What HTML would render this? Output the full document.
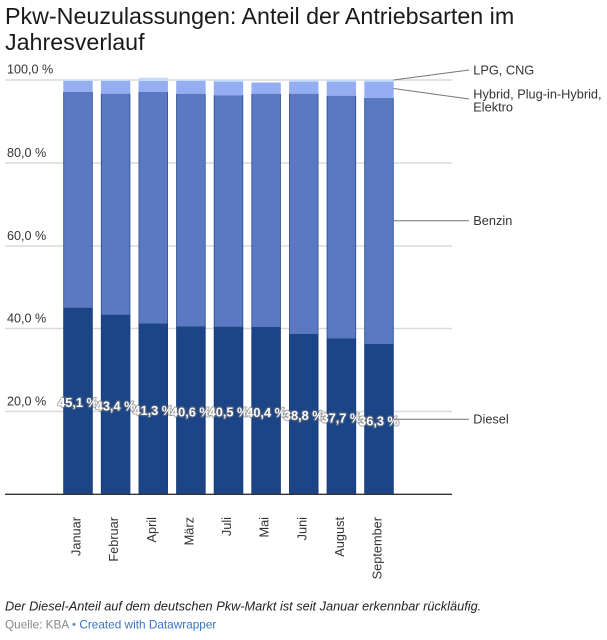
<!DOCTYPE html>
<html>
<head>
<meta charset="utf-8">
<style>
html,body{margin:0;padding:0;background:#fff;}
body{width:607px;height:640px;overflow:hidden;}
svg{display:block;}
text{font-family:"Liberation Sans",Arial,sans-serif;}
</style>
</head>
<body>
<svg width="607" height="640" viewBox="0 0 607 640" xmlns="http://www.w3.org/2000/svg">
  <!-- Title -->
  <text x="5" y="24" font-size="23.25" fill="#1a1a1a">Pkw-Neuzulassungen: Anteil der Antriebsarten im</text>
  <text x="5" y="50" font-size="23.25" fill="#1a1a1a">Jahresverlauf</text>

  <!-- Gridlines -->
  <g stroke="#dadada" stroke-width="1.5">
    <line x1="5" y1="80" x2="452" y2="80"/>
    <line x1="5" y1="163" x2="452" y2="163"/>
    <line x1="5" y1="246" x2="452" y2="246"/>
    <line x1="5" y1="328.5" x2="452" y2="328.5"/>
    <line x1="5" y1="411.5" x2="452" y2="411.5"/>
  </g>

  <!-- Y labels -->
  <g font-size="12.6" fill="#333">
    <text x="7" y="73.5">100,0 %</text>
    <text x="7" y="157">80,0 %</text>
    <text x="7" y="240">60,0 %</text>
    <text x="7" y="322.5">40,0 %</text>
    <text x="7" y="405.5">20,0 %</text>
  </g>

  <!-- Bars -->
  <g id="bars">
    <!-- Bar 1 Januar -->
    <rect x="63.3" y="80" width="29.4" height="1" fill="#c6dbf7"/>
    <rect x="63.3" y="81" width="29.4" height="11" fill="#94aef1"/>
    <rect x="63.3" y="92" width="29.4" height="215.6" fill="#5a79c2"/>
    <rect x="63.3" y="307.6" width="29.4" height="186.7" fill="#1b4586"/>
    <!-- Bar 2 Februar -->
    <rect x="100.9" y="80" width="29.4" height="1" fill="#c6dbf7"/>
    <rect x="100.9" y="81" width="29.4" height="12.7" fill="#94aef1"/>
    <rect x="100.9" y="93.7" width="29.4" height="220.9" fill="#5a79c2"/>
    <rect x="100.9" y="314.6" width="29.4" height="179.7" fill="#1b4586"/>
    <!-- Bar 3 April -->
    <rect x="138.55" y="77.7" width="29.4" height="3.3" fill="#c6dbf7"/>
    <rect x="138.55" y="81" width="29.4" height="11" fill="#94aef1"/>
    <rect x="138.55" y="92" width="29.4" height="231.3" fill="#5a79c2"/>
    <rect x="138.55" y="323.3" width="29.4" height="171" fill="#1b4586"/>
    <!-- Bar 4 März -->
    <rect x="176.2" y="80" width="29.4" height="1" fill="#c6dbf7"/>
    <rect x="176.2" y="81" width="29.4" height="12.7" fill="#94aef1"/>
    <rect x="176.2" y="93.7" width="29.4" height="232.5" fill="#5a79c2"/>
    <rect x="176.2" y="326.2" width="29.4" height="168.1" fill="#1b4586"/>
    <!-- Bar 5 Juli -->
    <rect x="213.8" y="80" width="29.4" height="1.7" fill="#c6dbf7"/>
    <rect x="213.8" y="81.7" width="29.4" height="13.6" fill="#94aef1"/>
    <rect x="213.8" y="95.3" width="29.4" height="231.3" fill="#5a79c2"/>
    <rect x="213.8" y="326.6" width="29.4" height="167.7" fill="#1b4586"/>
    <!-- Bar 6 Mai -->
    <rect x="251.4" y="82" width="29.4" height="1" fill="#c6dbf7"/>
    <rect x="251.4" y="83" width="29.4" height="10.7" fill="#94aef1"/>
    <rect x="251.4" y="93.7" width="29.4" height="233.3" fill="#5a79c2"/>
    <rect x="251.4" y="327" width="29.4" height="167.3" fill="#1b4586"/>
    <!-- Bar 7 Juni -->
    <rect x="289.05" y="80" width="29.4" height="1.7" fill="#c6dbf7"/>
    <rect x="289.05" y="81.7" width="29.4" height="12" fill="#94aef1"/>
    <rect x="289.05" y="93.7" width="29.4" height="240" fill="#5a79c2"/>
    <rect x="289.05" y="333.7" width="29.4" height="160.6" fill="#1b4586"/>
    <!-- Bar 8 August -->
    <rect x="326.7" y="80" width="29.4" height="1.7" fill="#c6dbf7"/>
    <rect x="326.7" y="81.7" width="29.4" height="14" fill="#94aef1"/>
    <rect x="326.7" y="95.7" width="29.4" height="242.5" fill="#5a79c2"/>
    <rect x="326.7" y="338.2" width="29.4" height="156.1" fill="#1b4586"/>
    <!-- Bar 9 September -->
    <rect x="364.3" y="80" width="29.4" height="1.7" fill="#c6dbf7"/>
    <rect x="364.3" y="81.7" width="29.4" height="16.3" fill="#94aef1"/>
    <rect x="364.3" y="98" width="29.4" height="246" fill="#5a79c2"/>
    <rect x="364.3" y="344" width="29.4" height="150.3" fill="#1b4586"/>
  </g>

  <!-- Bar edge shading -->
  <g stroke="#13336f" stroke-width="0.8" opacity="0.6">
    <line x1="63.7" y1="92" x2="63.7" y2="494"/><line x1="92.3" y1="92" x2="92.3" y2="494"/>
    <line x1="101.3" y1="94" x2="101.3" y2="494"/><line x1="129.9" y1="94" x2="129.9" y2="494"/>
    <line x1="138.95" y1="92" x2="138.95" y2="494"/><line x1="167.55" y1="92" x2="167.55" y2="494"/>
    <line x1="176.6" y1="94" x2="176.6" y2="494"/><line x1="205.2" y1="94" x2="205.2" y2="494"/>
    <line x1="214.2" y1="95" x2="214.2" y2="494"/><line x1="242.8" y1="95" x2="242.8" y2="494"/>
    <line x1="251.8" y1="94" x2="251.8" y2="494"/><line x1="280.4" y1="94" x2="280.4" y2="494"/>
    <line x1="289.45" y1="94" x2="289.45" y2="494"/><line x1="318.05" y1="94" x2="318.05" y2="494"/>
    <line x1="327.1" y1="96" x2="327.1" y2="494"/><line x1="355.7" y1="96" x2="355.7" y2="494"/>
    <line x1="364.7" y1="98" x2="364.7" y2="494"/><line x1="393.3" y1="98" x2="393.3" y2="494"/>
  </g>

  <!-- Baseline -->
  <line x1="5" y1="494.3" x2="452" y2="494.3" stroke="#333" stroke-width="1.3"/>

  <!-- Value labels -->
  <g font-size="12.75" font-weight="bold" fill="#fff" text-anchor="middle" stroke="rgba(120,120,120,0.55)" stroke-width="2.4" paint-order="stroke" stroke-linejoin="round">
    <text x="78" y="407">45,1 %</text>
    <text x="115.6" y="410.5">43,4 %</text>
    <text x="153.25" y="414.8">41,3 %</text>
    <text x="190.9" y="416.5">40,6 %</text>
    <text x="228.5" y="416.7">40,5 %</text>
    <text x="266.1" y="416.9">40,4 %</text>
    <text x="303.75" y="420.2">38,8 %</text>
    <text x="341.4" y="422.5">37,7 %</text>
    <text x="379" y="425.3">36,3 %</text>
  </g>

  <!-- X labels -->
  <g font-size="12.75" fill="#333" text-anchor="end">
    <text transform="translate(80.5,517) rotate(-90)">Januar</text>
    <text transform="translate(118.1,517) rotate(-90)">Februar</text>
    <text transform="translate(155.75,517) rotate(-90)">April</text>
    <text transform="translate(193.4,517) rotate(-90)">März</text>
    <text transform="translate(231,517) rotate(-90)">Juli</text>
    <text transform="translate(268.6,517) rotate(-90)">Mai</text>
    <text transform="translate(306.25,517) rotate(-90)">Juni</text>
    <text transform="translate(343.9,517) rotate(-90)">August</text>
    <text transform="translate(381.5,517) rotate(-90)">September</text>
  </g>

  <!-- Connector lines -->
  <g stroke="#777" stroke-width="1" fill="none">
    <line x1="393.5" y1="80" x2="469" y2="70"/>
    <line x1="393.5" y1="88.5" x2="469" y2="99"/>
    <line x1="394" y1="220.7" x2="469" y2="220.7"/>
    <line x1="394" y1="419.3" x2="469" y2="419.3"/>
  </g>

  <!-- Direct labels -->
  <g font-size="12.75" fill="#333">
    <text x="473.3" y="74.3">LPG, CNG</text>
    <text x="473.3" y="98.3">Hybrid, Plug-in-Hybrid,</text>
    <text x="473.3" y="111.7">Elektro</text>
    <text x="473.3" y="225">Benzin</text>
    <text x="473.3" y="423.5">Diesel</text>
  </g>

  <!-- Footer -->
  <text x="5" y="610.7" font-size="12.75" font-style="italic" fill="#222">Der Diesel-Anteil auf dem deutschen Pkw-Markt ist seit Januar erkennbar rückläufig.</text>
  <text x="5" y="628.3" font-size="11.8" fill="#888">Quelle: KBA <tspan fill="#6f8fbf">•</tspan> <tspan fill="#3a72c4">Created with Datawrapper</tspan></text>
</svg>
</body>
</html>
